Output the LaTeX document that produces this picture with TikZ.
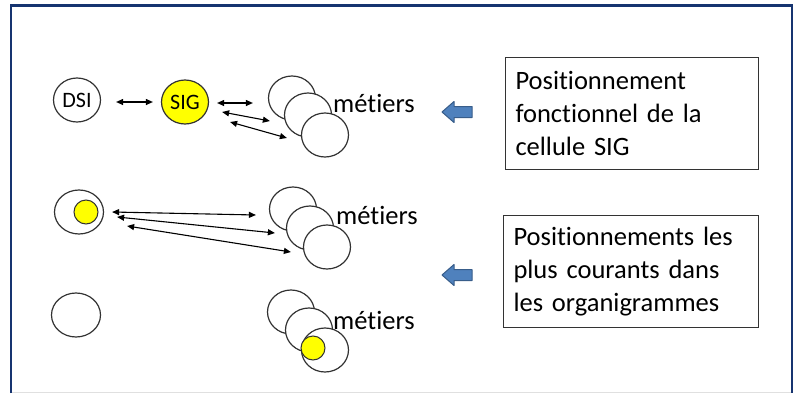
\documentclass[tikz,border=0pt]{standalone}
\usepackage{fontspec}
\setmainfont{Carlito}[Ligatures={NoCommon,NoContextual,NoRare},Contextuals=NoAlternate]
\usetikzlibrary{arrows.meta,shapes.geometric,calc}
\definecolor{frame}{RGB}{22,52,112}
\definecolor{sigyellow}{RGB}{255,255,0}
\definecolor{bafill}{RGB}{79,129,189}
\definecolor{badraw}{RGB}{56,93,138}
\definecolor{ring}{RGB}{50,50,50}
% keep "t" and "i" as separate glyphs
\newcommand{\metiers}{mét\kern0pt iers}
\begin{document}
\begin{tikzpicture}[x=1pt,y=-1pt,
  unit/.style={ellipse,draw=ring,line width=1.2pt,fill=white,minimum width=47pt,minimum height=44pt,inner sep=0pt},
  core/.style={circle,draw=ring,line width=1pt,fill=sigyellow,minimum size=24pt,inner sep=0pt},
  lbl/.style={font=\fontsize{22}{26}\selectfont,inner sep=0pt},
  metier/.style={font=\fontsize{26.5}{32}\selectfont,anchor=west,inner sep=0pt},
  link/.style={line width=1.1pt,{Triangle[length=7pt,width=6pt]}-{Triangle[length=7pt,width=6pt]}},
  infobox/.style={draw=black!80,line width=1pt,align=left,anchor=north west,inner xsep=10pt,
    font=\fontsize{26.5}{33}\selectfont},
  blockarrow/.style={fill=bafill,draw=badraw,line width=1pt,line join=round}]
\useasboundingbox (0,0) rectangle (796,394);
\fill[white] (0,0) rectangle (796,394);
% outer frame
\draw[black!12,line width=1.2pt] (11,392.5) -- (792,392.5);
\draw[frame,line width=2.4pt] (11,393) -- (11,5.5) -- (792,5.5) -- (792,393);

% first row: DSI, SIG and the business units
\node[unit] (dsi) at (77,100) {};
\node[lbl] at (77,100) {DSI};
\node[unit,fill=sigyellow] (sig) at (185,102) {};
\node[lbl] at (185,102) {SIG};
\node[unit] (a1) at (292,98) {};
\node[unit] (a2) at (308,115) {};
\node[unit] (a3) at (325,135) {};
\node[metier] (ta) at (333,103) {\metiers};

\draw[link] ($(dsi.east)+(15,2)$) -- ($(sig.west)+(-8,0)$);
\draw[link] ($(sig.east)+(8,1)$) -- ($(a1.west)+(-15,5)$);
\draw[link] ($(sig.east)+(13,10)$) -- ($(a2.west)+(-14,6)$);
\draw[link] ($(sig.east)+(21,20)$) -- ($(a3.west)+(-14,3)$);

% second row: SIG inside the IT department
\node[unit,minimum width=49pt] (p2) at (79,212) {};
\node[core] (c2) at (86,212) {};
\node[unit] (b1) at (293,209) {};
\node[unit] (b2) at (310,228) {};
\node[unit] (b3) at (327,247) {};
\node[metier] (tb) at (336,215) {\metiers};

\draw[link] ($(p2.east)+(8,0)$) -- ($(b1.west)+(-13,6)$);
\draw[link] ($(p2.east)+(13,5)$) -- ($(b2.west)+(-11,5)$);
\draw[link] ($(p2.east)+(23,14)$) -- ($(b3.west)+(-12,5)$);

% third row: SIG inside a business unit
\node[unit,minimum width=49pt] (p3) at (76,315) {};
\node[unit] (d1) at (291,312) {};
\node[unit] (d2) at (309,330) {};
\node[unit] (d3) at (325,350) {};
\node[core] (c3) at (313,348) {};
\node[metier] (td) at (333,320) {\metiers};

% legend arrows
\coordinate (ba1) at (442,112);
\coordinate (ba2) at (442,275);
\foreach \p in {ba1,ba2}
  \draw[blockarrow] (\p) -- ++(12,-10.5) -- ++(0,5) -- ++(18,0) -- ++(0,11) -- ++(-18,0) -- ++(0,5) -- cycle;

% legend boxes
\node[infobox,minimum width=253pt,minimum height=112pt,text width=233pt] (box1) at (505,57)
  {Posit\kern0pt ionnement\\fonct\kern0pt ionnel de la\\cellule SIG};
\node[infobox,minimum width=255pt,minimum height=112pt,text width=235pt] (box2) at (503,215)
  {Posit\kern0pt ionnements les\\plus courants dans\\les organigrammes};
\end{tikzpicture}
\end{document}
